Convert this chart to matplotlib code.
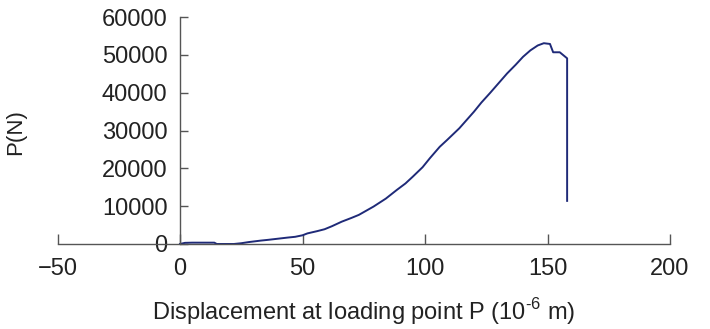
import matplotlib.pyplot as plt

plt.rcParams['font.family'] = ['Liberation Sans', 'DejaVu Sans']
plt.rcParams['mathtext.fontset'] = 'custom'
plt.rcParams['mathtext.rm'] = 'Liberation Sans'

# load-displacement curve (displacement in 1e-6 m, load in N)
disp = [0, 2, 5, 10, 14, 15, 18, 22, 25, 28, 33, 36, 40, 44, 47, 50, 52, 56,
        59, 62, 66, 70, 73, 76, 79, 84, 88.5, 92, 95, 99, 102, 106, 109, 114,
        120, 123, 126.5, 130, 133.5, 137, 140, 143, 146, 148.5, 151, 152.3,
        155, 158, 158]
load = [0, 300, 350, 350, 350, 0, 0, 0, 200, 500, 900, 1100, 1400, 1700, 1900,
        2300, 2800, 3400, 3900, 4700, 5900, 6900, 7700, 8800, 9900, 12000,
        14300, 16000, 17800, 20300, 22700, 25700, 27500, 30600, 35000, 37400,
        39900, 42500, 45100, 47400, 49500, 51200, 52500, 53100, 52900, 50700,
        50700, 49100, 11400]

xticks = [-50, 0, 50, 100, 150, 200]
yticks = [0, 10000, 20000, 30000, 40000, 50000, 60000]

fig = plt.figure(figsize=(7.1, 3.29), dpi=100)
ax = fig.add_axes([0.081, 0.2584, 0.8627, 0.6896])

ax.plot(disp, load, color='#1f2a78', lw=1.4)

ax.set_xlim(-50, 200)
ax.set_ylim(0, 60000)
ax.set_xticks(xticks)
ax.set_yticks(yticks)
ax.set_xticklabels(['\u221250', '0', '50', '100', '150', '200'])

for s in ['top', 'right']:
    ax.spines[s].set_visible(False)
ax.spines['left'].set_position(('data', 0))
ax.spines['bottom'].set_position(('data', 0))
for s in ['left', 'bottom']:
    ax.spines[s].set_color('#555555')
    ax.spines[s].set_linewidth(1.0)

ax.tick_params(axis='x', direction='in', length=7, width=1, color='#555555',
               labelsize=17, pad=10, labelcolor='#222222')
ax.tick_params(axis='y', direction='in', length=6, width=1, color='#555555',
               labelsize=17, pad=9, labelcolor='#222222')

ax.set_xlabel('Displacement at loading point P (10$^{\\text{-6}}$ m)', fontsize=17,
              color='#222222', labelpad=12)
fig.text(0.022, 0.6, 'P(N)', rotation=90, fontsize=16, color='#222222',
         ha='center', va='center')

fig.savefig('out.png', dpi=100)
